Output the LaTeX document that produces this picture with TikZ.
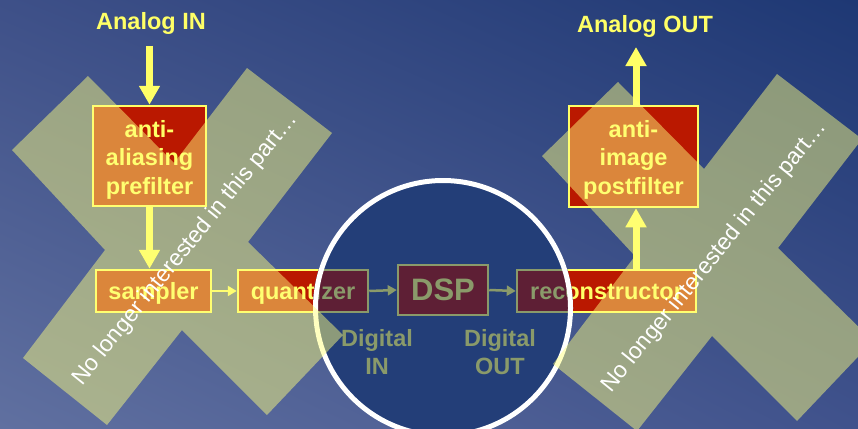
\documentclass[tikz,border=0pt]{standalone}
\usepackage{fontspec}
\setmainfont{Liberation Sans}
\usetikzlibrary{arrows.meta,shadings}
\definecolor{yel}{RGB}{255,255,102}
\definecolor{boxred}{RGB}{186,24,0}
\definecolor{maroon}{RGB}{94,31,53}
\definecolor{gg}{RGB}{138,154,106}
\definecolor{circfill}{RGB}{35,62,120}
\definecolor{xcol}{RGB}{255,255,125}
\definecolor{bgUL}{RGB}{62,80,136}
\definecolor{bgUR}{RGB}{30,56,116}
\definecolor{bgLL}{RGB}{96,112,160}
\definecolor{bgLR}{RGB}{64,82,140}
\tikzset{
 fnt/.style={font=\fontsize{23.5}{28.5}\selectfont\bfseries},
 blockb/.style={fnt, draw=yel, fill=boxred, text=yel, line width=2.5pt, inner sep=0pt, align=center},
 blockd/.style={fnt, draw=gg, fill=maroon, text=gg, line width=2.5pt, inner sep=0pt, align=center},
 onerow/.style={text height=17pt, text depth=0pt},
 bigarr/.style={draw=yel, line width=7pt, -{Triangle[width=20pt,length=19pt]}},
 thinarr/.style={line width=2.5pt, -{Triangle[width=10pt,length=9pt]}},
 xshape/.style={fill=xcol, fill opacity=0.48},
 note/.style={text=white, font=\fontsize{23}{27}\selectfont, rotate=51, anchor=base, inner sep=0pt},
 lbl/.style={fnt, inner sep=0pt, align=center},
 crossx/.pic={\fill[xshape] (88,76) -- (174,163) -- (247,68) -- (332,133) -- (248,242) -- (343,335) -- (267,415) -- (182,330) -- (107,425) -- (23,358) -- (105,250) -- (12,150) -- cycle;}
}
\begin{document}
\begin{tikzpicture}[x=1pt,y=-1pt]
\useasboundingbox (0,0) rectangle (858,428);
\shade[upper left=bgUL, upper right=bgUR, lower left=bgLL, lower right=bgLR] (0,0) rectangle (858,428);
% bright diagram
\node[blockb, minimum width=113pt, minimum height=100pt] (pre) at (149.5,156) {};
\node[lbl, text=yel] (pretxt) at (149.5,159.5) {anti-\\aliasing\\prefilter};
\node[blockb, onerow, minimum width=115pt, minimum height=42pt] (samp) at (153.5,291) {sampler};
\node[blockb, onerow, minimum width=130pt, minimum height=42pt] (quant) at (303,291) {quantizer};
\node[blockb, onerow, minimum width=179pt, minimum height=42pt] (recon) at (606.5,291) {reconstructor};
\node[blockb, minimum width=129pt, minimum height=101pt] (post) at (633.5,156.5) {};
\node[lbl, text=yel] (posttxt) at (633.5,159.5) {anti-\\image\\postfilter};
\node[lbl, text=yel, anchor=base] (ain) at (151,29.5) {Analog IN};
\node[lbl, text=yel, anchor=base] (aout) at (645,33) {Analog OUT};
\coordinate (ainend) at (149.5,46);
\coordinate (aoutend) at (636,47);
\coordinate (ax) at (636,0);
\draw[bigarr] (ainend) -- (pre.north);
\draw[bigarr] (pre.south) -- (pre.south |- samp.north);
\draw[thinarr, yel] (samp.east) -- (quant.west);
\draw[bigarr] (recon.north -| ax) -- (post.south -| ax);
\draw[bigarr] (post.north -| ax) -- (aoutend);
% focus circle
\fill[circfill] (443,308) circle[radius=130pt];
\begin{scope}
\clip (443,308) circle[radius=130pt];
\node[blockd, onerow, minimum width=130pt, minimum height=42pt] (quantd) at (303,291) {quantizer};
\node[blockd, onerow, minimum width=179pt, minimum height=42pt] (recond) at (606.5,291) {reconstructor};
\end{scope}
\node[blockd, minimum width=90pt, minimum height=50pt, font=\fontsize{31}{36}\selectfont\bfseries, text depth=0pt] (dsp) at (443,290) {DSP};
\draw[thinarr, gg] (quantd.east) -- (dsp.west);
\draw[thinarr, gg] (dsp.east) -- (recond.west);
\node[lbl, text=gg] (din) at (377,352) {Digital\\IN};
\node[lbl, text=gg] (dout) at (500,352) {Digital\\OUT};
\draw[white, line width=5pt] (443,308) circle[radius=127.5pt];
% crosses
\pic at (0,0) {crossx};
\pic at (530,6) {crossx};
\node[note] (n1) at (190,253) {No longer interested in this part…};
\node[note] (n2) at (719,260.5) {No longer interested in this part…};
\end{tikzpicture}
\end{document}
